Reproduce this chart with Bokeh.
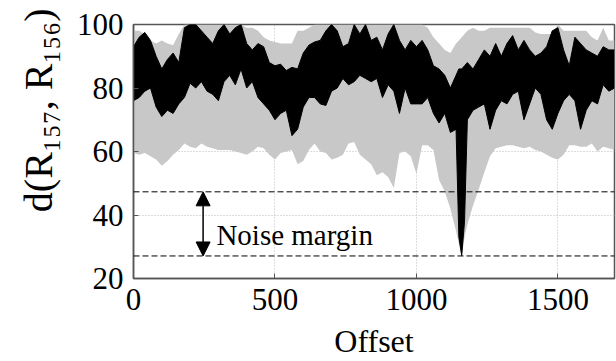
from bokeh.plotting import figure
from bokeh.models import Range1d, FixedTicker, Span, Arrow, NormalHead, Label, Title
from bokeh.embed import file_html
from bokeh.resources import INLINE

# Offset samples
offset = [0, 20, 40, 60, 80, 100, 120, 140, 160, 180,
          200, 220, 240, 260, 280, 300, 320, 340, 360, 380,
          400, 420, 440, 460, 480, 500, 520, 540, 560, 580,
          600, 620, 640, 660, 680, 700, 720, 740, 760, 780,
          800, 820, 840, 860, 880, 900, 920, 940, 960, 980,
          1000, 1020, 1040, 1060, 1080, 1100, 1120, 1140, 1150, 1160,
          1170, 1180, 1200, 1220, 1240, 1260, 1280, 1300, 1320, 1340,
          1360, 1380, 1400, 1420, 1440, 1460, 1480, 1500, 1520, 1540,
          1560, 1580, 1600, 1620, 1640, 1660, 1680, 1700]

# Grey envelope (over all pairs): upper and lower
gray_top = [98, 98, 97, 95, 94, 95, 94, 93.5, 97, 100,
            100, 100, 100, 100, 100, 100, 100, 100, 100, 100,
            99, 99, 98, 96, 95, 94.5, 94, 94, 94, 98,
            98, 99, 100, 100, 100, 100, 100, 100, 100, 100,
            100, 100, 100, 100, 100, 100, 100, 100, 100, 100,
            100, 100, 99, 96, 94, 92, 91, 94, 95, 96,
            97, 98, 99, 98, 98, 99, 99, 99, 99, 99,
            99, 99, 99, 97.5, 97, 97, 97, 100, 98, 98,
            98, 98, 98, 96, 95, 99, 95, 95]
gray_bot = [59.5, 59, 59.5, 58.5, 57.5, 55.5, 57, 59, 60.5, 62.5,
            61.5, 61, 62.5, 61.5, 61, 60.5, 60.5, 60.5, 60, 59.5,
            59, 60, 61.5, 61, 59, 57.5, 59.5, 60, 60.5, 56,
            57, 60.5, 62.5, 60, 59.5, 57.5, 58, 59, 62.5, 63,
            59, 57.5, 56, 52.5, 53.5, 52, 48.5, 59.5, 60, 58.5,
            53, 62, 62, 60.5, 51, 47.5, 42, 35, 31, 27,
            33, 37, 43, 48, 53.5, 58.5, 61, 61.5, 62, 62,
            61.5, 61, 61.5, 60.5, 60, 59, 58, 57.5, 59, 62,
            62, 61.5, 61.5, 62.5, 60, 61.5, 61, 60.5]

# Black trace d(R157, R156): upper and lower extent
black_top = [93, 96, 97.5, 95, 90, 86, 89, 91, 88, 99,
             100, 100, 98, 96, 94, 98, 100, 97, 99, 100,
             94, 92, 94, 93, 88, 87, 87.5, 85.5, 86.5, 86,
             91, 93.5, 94.5, 95, 98, 100, 98, 93, 94, 100,
             97, 100, 95, 96, 92, 97, 100, 95, 92, 95,
             93, 95, 92, 87, 86, 84, 80, 84, 86, 86,
             87, 88, 86, 89, 92, 90, 94, 90, 94, 96.5,
             92, 95, 92, 90, 91, 93, 98, 99, 92, 87,
             96, 94, 92, 91, 90, 93, 92, 92]
black_bot = [76, 77, 79, 80, 74, 71, 73, 72, 75, 77,
             81.5, 80, 82, 79, 78, 76, 82, 84, 81, 86,
             80, 82, 77, 75, 73, 70, 72, 73, 65, 67,
             74, 77, 77, 75, 74.5, 79, 80, 83, 81, 82,
             84, 83, 82, 83, 77, 81, 79, 72, 80, 75,
             75, 75, 77, 72, 69, 72, 66, 67, 33, 27.2,
             38, 70, 73, 74, 75, 67, 73, 76, 75, 78,
             79, 70, 75, 80, 78, 70, 67, 72, 76, 78,
             76, 67, 73, 76, 75, 81, 79, 80]

x_ticks = [0, 500, 1000, 1500]
y_ticks = [20, 40, 60, 80, 100]
margin_high = 47.3
margin_low = 27.1
arrow_x = 246
note_text = "Noise margin"
x_title = "Offset"
y_title = "d(R\u2081\u2085\u2087, R\u2081\u2085\u2086)"

FONT = "'Liberation Serif', 'Times New Roman', Times, serif"

p = figure(width=616, height=361,
           x_range=Range1d(0, 1700), y_range=Range1d(20, 100),
           output_backend="svg", toolbar_location=None,
           min_border_left=133, min_border_right=2,
           min_border_top=24, min_border_bottom=81)

p.background_fill_color = "white"
p.border_fill_color = "white"
p.outline_line_color = "#555555"
p.outline_line_width = 1.5

p.varea(x=offset, y1=gray_bot, y2=gray_top, fill_color="#c8c8c8", fill_alpha=1.0)
p.varea(x=offset, y1=black_bot, y2=black_top, fill_color="black", fill_alpha=1.0)
p.line(x=offset, y=black_top, line_color="black", line_width=1)
p.line(x=offset, y=black_bot, line_color="black", line_width=1)

for yv in (margin_high, margin_low):
    p.add_layout(Span(location=yv, dimension="width", line_color="black",
                      line_width=1, line_dash="6 3"))

head1 = NormalHead(size=14, fill_color="black", line_color="black")
head2 = NormalHead(size=14, fill_color="black", line_color="black")
p.add_layout(Arrow(start=head1, end=head2, x_start=arrow_x, y_start=margin_high,
                   x_end=arrow_x, y_end=margin_low, line_color="black", line_width=1.5))

p.add_layout(Label(x=293, y=33.75, text=note_text, text_font=FONT,
                   text_font_size="29px", text_color="black",
                   text_baseline="alphabetic", text_align="left"))

# vertical y title on the left, aligned towards the top of the frame
p.add_layout(Title(text=y_title, align="right", offset=-16, standoff=25,
                   text_font=FONT, text_font_size="40px", text_font_style="normal",
                   text_color="black"), "left")

for ax in (p.xaxis, p.yaxis):
    ax.major_label_text_font = FONT
    ax.major_label_text_font_size = "31px"
    ax.major_label_text_color = "black"
    ax.axis_label_text_font = FONT
    ax.axis_label_text_font_style = "normal"
    ax.axis_label_text_color = "black"
    ax.axis_line_color = "#555555"
    ax.axis_line_width = 1.5
    ax.major_tick_line_color = "#555555"
    ax.major_tick_in = 5
    ax.major_tick_out = 0
    ax.minor_tick_line_color = None

p.xaxis.ticker = FixedTicker(ticks=x_ticks)
p.yaxis.ticker = FixedTicker(ticks=y_ticks)
p.xaxis.axis_label = x_title
p.xaxis.axis_label_text_font_size = "32px"
p.xaxis.axis_label_standoff = 10
p.xaxis.major_label_standoff = 10
p.yaxis.major_label_standoff = 10

p.xgrid.grid_line_color = "#bbbbbb"
p.xgrid.grid_line_dash = "1 2"
p.ygrid.grid_line_color = "#bbbbbb"
p.ygrid.grid_line_dash = "1 2"

open("out.html", "w").write(file_html(p, INLINE))
